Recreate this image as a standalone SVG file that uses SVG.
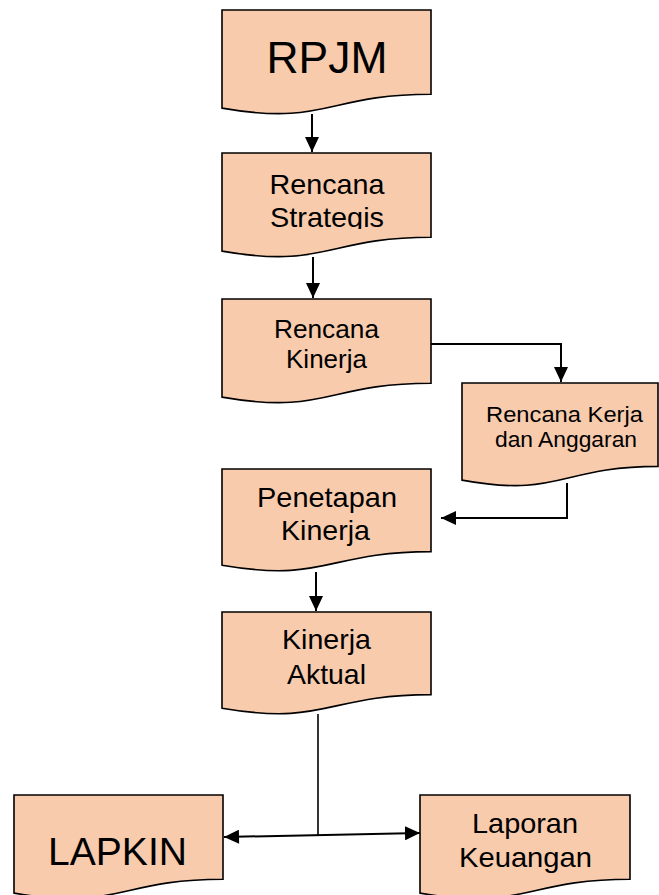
<svg xmlns="http://www.w3.org/2000/svg" width="659" height="895" viewBox="0 0 659 895">
<style>
.box{fill:#F8CBAD;stroke:#000;stroke-width:1.6}
.t{font-family:"Liberation Sans",Arial,sans-serif;fill:#000;text-anchor:middle}
.c{fill:none;stroke:#000;stroke-width:2}
</style>
<defs>
<marker id="ah" markerUnits="userSpaceOnUse" markerWidth="16" markerHeight="14" refX="15" refY="7" orient="auto">
<path d="M0,0 L15,7 L0,14 Z" fill="#000"/>
</marker>
<marker id="ahs" markerUnits="userSpaceOnUse" markerWidth="16" markerHeight="14" refX="0" refY="7" orient="auto">
<path d="M15,0 L0,7 L15,14 Z" fill="#000"/>
</marker>
<clipPath id="clipStrat"><rect x="222" y="153" width="209" height="76"/></clipPath>
</defs>

<g id="connectors">
<path class="c" d="M312,114 V152" marker-end="url(#ah)"/>
<path class="c" d="M313,257 V298" marker-end="url(#ah)"/>
<path class="c" d="M431,344 H561 V382" marker-end="url(#ah)"/>
<path class="c" d="M567,483 V518 H441" marker-end="url(#ah)"/>
<path class="c" d="M316,572 V611" marker-end="url(#ah)"/>
<path class="c" d="M318,714 V835" style="stroke-width:1.6"/>
<path class="c" d="M224,837 L420,833" marker-start="url(#ahs)" marker-end="url(#ah)"/>
</g>

<g id="rpjm">
<path class="box" d="M222,10 H431 V94.2 C326.5,94.2 326.5,126.3 222,108.1 Z"/>
<text class="t" x="327" y="73" font-size="45" textLength="121" lengthAdjust="spacingAndGlyphs">RPJM</text>
</g>

<g id="rencana-strategis">
<path class="box" d="M222,153 H431 V237.2 C326.5,237.2 326.5,269.3 222,251.1 Z"/>
<g clip-path="url(#clipStrat)">
<text class="t" x="327" y="194" font-size="28" textLength="115" lengthAdjust="spacingAndGlyphs">Rencana</text>
<text class="t" x="327" y="227" font-size="28" textLength="114" lengthAdjust="spacingAndGlyphs">Strategis</text>
</g>
</g>

<g id="rencana-kinerja">
<path class="box" d="M222,299 H431 V383.2 C326.5,383.2 326.5,415.3 222,397.1 Z"/>
<text class="t" x="326.5" y="338" font-size="26.5" textLength="105" lengthAdjust="spacingAndGlyphs">Rencana</text>
<text class="t" x="326.5" y="368" font-size="26.5" textLength="81" lengthAdjust="spacingAndGlyphs">Kinerja</text>
</g>

<g id="rencana-kerja-anggaran">
<path class="box" d="M462,383 H658 V466.4 C560,466.4 560,498.2 462,480.1 Z"/>
<text class="t" x="564.5" y="422" font-size="22.5" textLength="157" lengthAdjust="spacingAndGlyphs">Rencana Kerja</text>
<text class="t" x="566" y="447" font-size="22.5" textLength="142" lengthAdjust="spacingAndGlyphs">dan Anggaran</text>
</g>

<g id="penetapan-kinerja">
<path class="box" d="M222,469 H431 V551.6 C326.5,551.6 326.5,583.1 222,565.2 Z"/>
<text class="t" x="327" y="507" font-size="28" textLength="140" lengthAdjust="spacingAndGlyphs">Penetapan</text>
<text class="t" x="325.5" y="540" font-size="28" textLength="89" lengthAdjust="spacingAndGlyphs">Kinerja</text>
</g>

<g id="kinerja-aktual">
<path class="box" d="M222,612 H431 V694.6 C326.5,694.6 326.5,726.1 222,708.2 Z"/>
<text class="t" x="326.5" y="649" font-size="28" textLength="89" lengthAdjust="spacingAndGlyphs">Kinerja</text>
<text class="t" x="326.5" y="684" font-size="28" textLength="79" lengthAdjust="spacingAndGlyphs">Aktual</text>
</g>

<g id="lapkin">
<path class="box" d="M14,795 H223 V879.2 C118.5,879.2 118.5,911.3 14,893.1 Z"/>
<text class="t" x="117.5" y="865" font-size="39" textLength="139" lengthAdjust="spacingAndGlyphs">LAPKIN</text>
</g>

<g id="laporan-keuangan">
<path class="box" d="M420,795 H630 V879.2 C525,879.2 525,911.3 420,893.1 Z"/>
<text class="t" x="525" y="833" font-size="28.5" textLength="106" lengthAdjust="spacingAndGlyphs">Laporan</text>
<text class="t" x="525.5" y="867" font-size="28.5" textLength="133" lengthAdjust="spacingAndGlyphs">Keuangan</text>
</g>
</svg>
